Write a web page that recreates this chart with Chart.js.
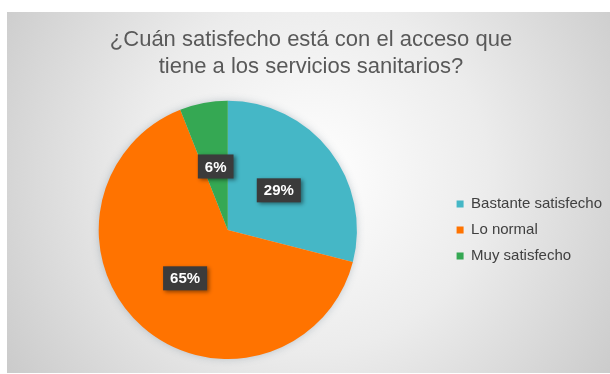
<!DOCTYPE html>
<html>
<head>
<meta charset="utf-8">
<script src="https://cdn.jsdelivr.net/npm/chart.js@4.4.1/dist/chart.umd.min.js"></script>
<style>
  html, body { margin: 0; padding: 0; background: #fff; overflow: hidden; }
  #wrap { position: absolute; left: 7px; top: 12px; width: 610px; height: 361px; }
</style>
</head>
<body>
<div id="wrap"><canvas id="pieChart"></canvas></div>
<script>
  var categories = ["Bastante satisfecho", "Lo normal", "Muy satisfecho"];
  var percentages = [29, 65, 6];
  var sliceColors = ["#45b7c6", "#ff7300", "#35a853"];
  var titleLines = ["¿Cuán satisfecho está con el acceso que", "tiene a los servicios sanitarios?"];

  var ctx = document.getElementById("pieChart").getContext("2d");

  // grey radial fill behind the whole chart
  var backdrop = {
    id: "backdrop",
    beforeDraw: function (chart) {
      var c = chart.ctx, w = chart.width, h = chart.height;
      var g = c.createRadialGradient(w * 0.5, h * 0.45, 0, w * 0.5, h * 0.45, Math.sqrt(w * w + h * h) * 0.55);
      g.addColorStop(0, "#ffffff");
      g.addColorStop(0.45, "#ececec");
      g.addColorStop(1, "#c6c6c6");
      c.save();
      c.fillStyle = g;
      c.fillRect(0, 0, w, h);
      c.restore();
    },
    beforeDatasetsDraw: function (chart) {
      // soft glow under the pie
      var arc = chart.getDatasetMeta(0).data[0];
      if (!arc) return;
      var c = chart.ctx;
      c.save();
      c.shadowColor = "rgba(60,90,110,0.35)";
      c.shadowBlur = 8;
      c.fillStyle = "#d8d8d8";
      c.beginPath();
      c.arc(arc.x, arc.y, arc.outerRadius - 1, 0, Math.PI * 2);
      c.fill();
      c.restore();
    }
  };

  // dark boxed percentage labels
  var valueBoxes = {
    id: "valueBoxes",
    afterDatasetsDraw: function (chart) {
      var c = chart.ctx;
      var meta = chart.getDatasetMeta(0);
      c.save();
      c.font = "bold 15px 'Liberation Sans', Arial, sans-serif";
      c.textAlign = "center";
      c.textBaseline = "middle";
      meta.data.forEach(function (arc, i) {
        var p = arc.tooltipPosition();
        var txt = percentages[i] + "%";
        var tw = c.measureText(txt).width;
        var bw = tw + 14, bh = 24;
        c.shadowColor = "rgba(0,0,0,0.45)";
        c.shadowBlur = 4;
        c.shadowOffsetX = 2;
        c.shadowOffsetY = 2;
        c.fillStyle = "#3b3b3b";
        c.fillRect(p.x - bw / 2, p.y - bh / 2, bw, bh);
        c.shadowColor = "transparent";
        c.fillStyle = "#ffffff";
        c.fillText(txt, p.x, p.y + 1);
      });
      c.restore();
    }
  };

  var pieChart = new Chart(ctx, {
    type: "pie",
    data: {
      labels: categories,
      datasets: [{
        data: percentages,
        backgroundColor: sliceColors,
        borderWidth: 0,
        hoverOffset: 0
      }]
    },
    options: {
      responsive: true,
      maintainAspectRatio: false,
      animation: false,
      layout: { padding: { top: 2, left: 3, right: 5, bottom: 14 } },
      plugins: {
        title: {
          display: true,
          text: titleLines,
          color: "#595959",
          font: { family: "'Liberation Sans', Arial, sans-serif", size: 22, weight: "normal", lineHeight: 1.2 },
          padding: { top: 13, bottom: 21 }
        },
        legend: {
          position: "right",
          fullSize: false,
          labels: {
            boxWidth: 7,
            boxHeight: 7,
            padding: 11,
            color: "#404040",
            font: { family: "'Liberation Sans', Arial, sans-serif", size: 15 }
          }
        },
        tooltip: { enabled: false }
      }
    },
    plugins: [backdrop, valueBoxes]
  });
</script>
</body>
</html>
